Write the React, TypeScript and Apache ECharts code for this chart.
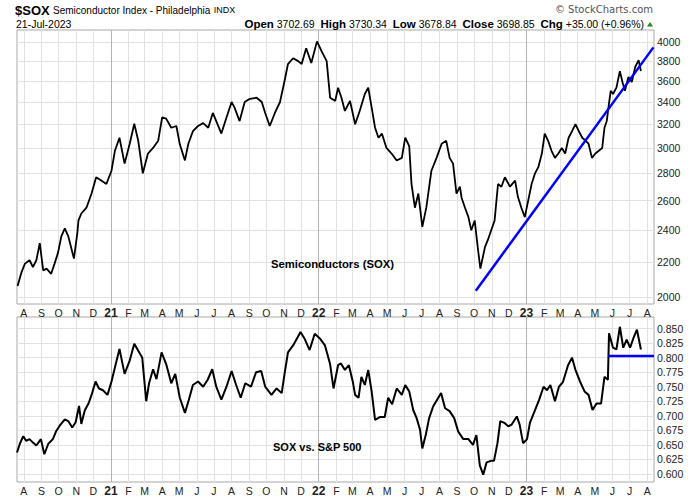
import React, { useEffect, useRef } from 'react';
import * as echarts from 'echarts';

const priceDates = [
  '2020-07-21','2020-07-28','2020-08-03','2020-08-11','2020-08-17','2020-08-23','2020-08-29','2020-09-04','2020-09-10','2020-09-18',
  '2020-09-24','2020-09-30','2020-10-06','2020-10-12','2020-10-18','2020-10-23','2020-10-28','2020-11-03','2020-11-05','2020-11-10',
  '2020-11-19','2020-11-28','2020-12-06','2020-12-15','2020-12-24','2021-01-02','2021-01-08','2021-01-16','2021-01-25','2021-02-03',
  '2021-02-11','2021-02-18','2021-02-26','2021-03-07','2021-03-16','2021-03-25','2021-04-01','2021-04-08','2021-04-17','2021-04-26',
  '2021-05-02','2021-05-11','2021-05-17','2021-05-25','2021-06-03','2021-06-12','2021-06-21','2021-06-29','2021-07-05','2021-07-14',
  '2021-07-23','2021-08-01','2021-08-06','2021-08-15','2021-08-24','2021-09-02','2021-09-14','2021-09-23','2021-09-29','2021-10-07',
  '2021-10-16','2021-10-25','2021-11-02','2021-11-08','2021-11-17','2021-11-26','2021-12-02','2021-12-10','2021-12-19','2021-12-29',
  '2022-01-06','2022-01-15','2022-01-21','2022-01-30','2022-02-04','2022-02-10','2022-02-16','2022-02-25','2022-03-06','2022-03-14',
  '2022-03-23','2022-03-29','2022-04-04','2022-04-10','2022-04-16','2022-04-22','2022-04-30','2022-05-09','2022-05-18','2022-05-27',
  '2022-06-02','2022-06-09','2022-06-13','2022-06-19','2022-06-25','2022-07-02','2022-07-09','2022-07-18','2022-07-27','2022-08-05',
  '2022-08-13','2022-08-19','2022-08-25','2022-08-31','2022-09-06','2022-09-09','2022-09-15','2022-09-21','2022-09-26','2022-10-02',
  '2022-10-08','2022-10-12','2022-10-20','2022-10-25','2022-10-31','2022-11-06','2022-11-12','2022-11-18','2022-11-24','2022-12-03',
  '2022-12-12','2022-12-17','2022-12-23','2022-12-29','2023-01-04','2023-01-10','2023-01-16','2023-01-22','2023-01-28','2023-02-02',
  '2023-02-08','2023-02-14','2023-02-20','2023-02-26','2023-03-04','2023-03-10','2023-03-16','2023-03-22','2023-03-28','2023-04-03',
  '2023-04-09','2023-04-15','2023-04-20','2023-04-26','2023-05-02','2023-05-08','2023-05-14','2023-05-18','2023-05-22','2023-05-25',
  '2023-05-29','2023-06-02','2023-06-08','2023-06-14','2023-06-19','2023-06-23','2023-06-29','2023-07-05','2023-07-11','2023-07-17',
  '2023-07-21'
];
const priceValues = [
  2060,2140,2190,2210,2170,2210,2315,2150,2160,2130,
  2190,2255,2360,2410,2360,2290,2220,2380,2463,2510,
  2550,2650,2770,2745,2720,2820,2977,3085,2875,3035,
  3205,3059,2800,2955,3000,3059,3260,3250,3170,3185,
  3030,2900,3035,3140,3185,3210,3170,3300,3228,3120,
  3260,3400,3350,3228,3400,3430,3440,3400,3300,3185,
  3300,3400,3600,3770,3830,3800,3770,3935,3780,4010,
  3905,3800,3440,3410,3535,3440,3318,3410,3200,3318,
  3475,3535,3350,3170,3085,3120,3000,2955,2900,2920,
  3085,3015,2720,2550,2650,2420,2550,2820,2920,3035,
  3059,2920,2875,2650,2700,2620,2550,2485,2398,2463,
  2271,2160,2290,2334,2398,2463,2720,2700,2770,2700,
  2745,2625,2550,2485,2600,2720,2800,2850,2955,3120,
  3059,2977,2920,2955,3000,2955,3085,3140,3200,3140,
  3085,3059,3035,2920,2955,2977,3000,3170,3228,3350,
  3505,3475,3535,3698,3580,3505,3640,3590,3740,3810,
  3699
];

const ratioDates = [
  '2020-07-20','2020-07-25','2020-07-31','2020-08-05','2020-08-11','2020-08-17','2020-08-23','2020-08-31','2020-09-06','2020-09-13',
  '2020-09-21','2020-09-27','2020-10-03','2020-10-12','2020-10-18','2020-10-25','2020-10-31','2020-11-06','2020-11-10','2020-11-16',
  '2020-11-23','2020-11-29','2020-12-05','2020-12-11','2020-12-18','2020-12-26','2021-01-02','2021-01-08','2021-01-16','2021-01-25',
  '2021-02-03','2021-02-11','2021-02-18','2021-02-25','2021-03-04','2021-03-09','2021-03-16','2021-03-22','2021-03-31','2021-04-08',
  '2021-04-17','2021-04-24','2021-05-02','2021-05-11','2021-05-18','2021-05-25','2021-06-03','2021-06-12','2021-06-20','2021-06-28',
  '2021-07-05','2021-07-14','2021-07-23','2021-08-01','2021-08-09','2021-08-17','2021-08-25','2021-09-04','2021-09-13','2021-09-22',
  '2021-09-29','2021-10-10','2021-10-19','2021-10-28','2021-11-02','2021-11-08','2021-11-17','2021-11-25','2021-11-30','2021-12-07',
  '2021-12-16','2021-12-25','2022-01-03','2022-01-12','2022-01-21','2022-01-27','2022-02-04','2022-02-09','2022-02-16','2022-02-23',
  '2022-03-02','2022-03-06','2022-03-12','2022-03-17','2022-03-23','2022-03-29','2022-04-04','2022-04-10','2022-04-19','2022-04-27',
  '2022-05-03','2022-05-10','2022-05-18','2022-05-27','2022-06-02','2022-06-09','2022-06-16','2022-06-22','2022-06-28','2022-07-02',
  '2022-07-08','2022-07-14','2022-07-21','2022-07-30','2022-08-04','2022-08-11','2022-08-19','2022-08-27','2022-09-03','2022-09-12',
  '2022-09-21','2022-09-29','2022-10-05','2022-10-11','2022-10-17','2022-10-23','2022-11-01','2022-11-05','2022-11-11','2022-11-16',
  '2022-11-23','2022-11-30','2022-12-06','2022-12-15','2022-12-20','2022-12-26','2023-01-02','2023-01-07','2023-01-16','2023-01-23',
  '2023-01-31','2023-02-06','2023-02-12','2023-02-20','2023-02-27','2023-03-06','2023-03-15','2023-03-22','2023-03-28','2023-04-05',
  '2023-04-13','2023-04-20','2023-04-27','2023-05-04','2023-05-12','2023-05-18','2023-05-24','2023-05-26','2023-06-02','2023-06-08',
  '2023-06-14','2023-06-20','2023-06-26','2023-07-02','2023-07-08','2023-07-14','2023-07-21'
];
const ratioValues = [
  0.637,0.652,0.665,0.657,0.660,0.654,0.649,0.660,0.634,0.652,
  0.660,0.674,0.683,0.694,0.691,0.680,0.689,0.717,0.686,0.709,
  0.722,0.739,0.759,0.747,0.744,0.736,0.759,0.783,0.815,0.772,
  0.795,0.824,0.812,0.800,0.725,0.756,0.780,0.763,0.809,0.789,
  0.756,0.772,0.731,0.705,0.728,0.753,0.759,0.750,0.762,0.780,
  0.750,0.728,0.750,0.777,0.753,0.731,0.756,0.750,0.775,0.777,
  0.750,0.736,0.747,0.739,0.772,0.809,0.821,0.835,0.844,0.833,
  0.813,0.841,0.833,0.821,0.789,0.747,0.787,0.790,0.779,0.787,
  0.758,0.736,0.731,0.767,0.753,0.779,0.742,0.693,0.698,0.698,
  0.731,0.720,0.747,0.736,0.753,0.742,0.710,0.696,0.676,0.644,
  0.667,0.696,0.716,0.731,0.739,0.713,0.708,0.696,0.673,0.660,
  0.660,0.650,0.667,0.615,0.599,0.620,0.623,0.623,0.653,0.691,
  0.688,0.682,0.685,0.699,0.685,0.653,0.660,0.688,0.710,0.727,
  0.750,0.744,0.753,0.725,0.750,0.758,0.787,0.800,0.779,0.759,
  0.742,0.736,0.710,0.721,0.721,0.767,0.762,0.842,0.817,0.814,
  0.853,0.817,0.831,0.817,0.834,0.848,0.814
];

const trendDates = ['2022-10-04', '2023-08-12'];
const trendValues = [2034, 3945];
const levelDates = ['2023-05-25', '2023-08-13'];
const levelValues = [0.803, 0.803];

const priceTicks = [2000, 2200, 2400, 2600, 2800, 3000, 3200, 3400, 3600, 3800, 4000];
const ratioTicks = [0.6, 0.625, 0.65, 0.675, 0.7, 0.725, 0.75, 0.775, 0.8, 0.825, 0.85];
const monthTicks = [
  '2020-08-01','2020-09-01','2020-10-01','2020-11-01','2020-12-01',
  '2021-01-01','2021-02-01','2021-03-01','2021-04-01','2021-05-01','2021-06-01','2021-07-01',
  '2021-08-01','2021-09-01','2021-10-01','2021-11-01','2021-12-01',
  '2022-01-01','2022-02-01','2022-03-01','2022-04-01','2022-05-01','2022-06-01','2022-07-01',
  '2022-08-01','2022-09-01','2022-10-01','2022-11-01','2022-12-01',
  '2023-01-01','2023-02-01','2023-03-01','2023-04-01','2023-05-01','2023-06-01','2023-07-01',
  '2023-08-01'
];
const monthLetters = ['J', 'F', 'M', 'A', 'M', 'J', 'J', 'A', 'S', 'O', 'N', 'D'];

const FONT = '"Liberation Sans", Arial, sans-serif';

export default function App() {
  const ref = useRef<HTMLDivElement>(null);
  useEffect(() => {
    document.body.style.margin = '0';
    const chart = echarts.init(ref.current!, null, { renderer: 'svg' });
    const tp = (s: string) => {
      const [y, m, d] = s.split('-').map(Number);
      return Date.UTC(y, m - 1, d);
    };
    const xMin = tp('2020-07-20');
    const xMax = tp('2023-08-13');
    const monthTickVals = monthTicks.map(tp);
    // split line colours cycle over 12 months starting at Aug; index 5 = January
    const vColors = ['#e2e2e2', '#e2e2e2', '#e2e2e2', '#e2e2e2', '#e2e2e2', '#b4b4b4',
      '#e2e2e2', '#e2e2e2', '#e2e2e2', '#e2e2e2', '#e2e2e2', '#e2e2e2'];
    const xFormatter = (v: number) => {
      const d = new Date(Math.round(v));
      const m = d.getUTCMonth();
      if (m === 0) return '{y|' + String(d.getUTCFullYear()).slice(2) + '}';
      return monthLetters[m];
    };
    const makeX = (gi: number) => ({
      type: 'value',
      gridIndex: gi,
      min: xMin,
      max: xMax,
      axisLine: { show: false },
      axisTick: { show: false, customValues: monthTickVals },
      axisLabel: {
        customValues: monthTickVals,
        formatter: xFormatter,
        margin: 3,
        fontSize: 10.5,
        color: '#222',
        fontFamily: FONT,
        hideOverlap: false,
        showMinLabel: true,
        showMaxLabel: true,
        rich: { y: { fontWeight: 'bold', fontSize: 12, color: '#222', fontFamily: FONT } },
      },
      splitLine: { show: true, lineStyle: { color: vColors, width: 1 } },
    });
    const logTicks = priceTicks.map((v) => Math.log(v));
    const option: any = {
      animation: false,
      backgroundColor: '#fff',
      grid: [
        { left: 17, top: 30, width: 637, height: 274, show: true, borderColor: '#a8a8a8', borderWidth: 1 },
        { left: 17, top: 317, width: 637, height: 165, show: true, borderColor: '#a8a8a8', borderWidth: 1 },
      ],
      xAxis: [makeX(0), makeX(1)],
      yAxis: [
        {
          type: 'value',
          gridIndex: 0,
          position: 'right',
          min: Math.log(1962),
          max: Math.log(4136),
          axisLine: { show: false },
          axisTick: { show: false, customValues: logTicks },
          axisLabel: {
            customValues: logTicks,
            formatter: (v: number) => String(Math.round(Math.exp(v))),
            margin: 3,
            fontSize: 10.5,
            color: '#222',
            fontFamily: FONT,
          },
          splitLine: { show: true, lineStyle: { color: '#e2e2e2', width: 1 } },
        },
        {
          type: 'value',
          gridIndex: 1,
          position: 'right',
          min: 0.5863,
          max: 0.8698,
          axisLine: { show: false },
          axisTick: { show: false, customValues: ratioTicks },
          axisLabel: {
            customValues: ratioTicks,
            formatter: (v: number) => v.toFixed(3),
            margin: 3,
            fontSize: 10.5,
            color: '#222',
            fontFamily: FONT,
          },
          splitLine: { show: true, lineStyle: { color: '#e2e2e2', width: 1 } },
        },
      ],
      series: [
        {
          type: 'line',
          xAxisIndex: 0,
          yAxisIndex: 0,
          data: priceDates.map((d, i) => [tp(d), Math.log(priceValues[i])]),
          showSymbol: false,
          lineStyle: { color: '#000', width: 1.8 },
          silent: true,
          z: 3,
        },
        {
          type: 'line',
          xAxisIndex: 0,
          yAxisIndex: 0,
          data: trendDates.map((d, i) => [tp(d), Math.log(trendValues[i])]),
          showSymbol: false,
          lineStyle: { color: '#0000ff', width: 2.5 },
          silent: true,
          z: 4,
        },
        {
          type: 'line',
          xAxisIndex: 1,
          yAxisIndex: 1,
          data: ratioDates.map((d, i) => [tp(d), ratioValues[i]]),
          showSymbol: false,
          lineStyle: { color: '#000', width: 2 },
          silent: true,
          z: 3,
        },
        {
          type: 'line',
          xAxisIndex: 1,
          yAxisIndex: 1,
          data: levelDates.map((d, i) => [tp(d), levelValues[i]]),
          showSymbol: false,
          lineStyle: { color: '#0000ff', width: 2.5 },
          silent: true,
          z: 4,
        },
      ],
      graphic: [
        {
          type: 'text',
          x: 15,
          y: 10,
          z: 100,
          style: {
            text: '{a|$SOX} {b|Semiconductor Index - Philadelphia} {c|INDX}',
            verticalAlign: 'middle',
            rich: {
              a: { fontSize: 13, fontWeight: 'bold', fontFamily: FONT, fill: '#000' },
              b: { fontSize: 10, fontFamily: FONT, fill: '#000' },
              c: { fontSize: 9, fontFamily: FONT, fill: '#000' },
            },
          },
        },
        {
          type: 'text',
          x: 16,
          y: 24,
          z: 100,
          style: { text: '21-Jul-2023', fontSize: 10.5, fontFamily: FONT, fill: '#000', verticalAlign: 'middle' },
        },
        {
          type: 'text',
          x: 644,
          y: 24,
          z: 100,
          style: {
            text: '{b|Open} 3702.69  {b|High} 3730.34  {b|Low} 3678.84  {b|Close} 3698.85  {b|Chg} +35.00 (+0.96%)',
            align: 'right',
            verticalAlign: 'middle',
            fontSize: 10.5,
            fontFamily: FONT,
            fill: '#000',
            rich: {
              b: { fontSize: 11.5, fontWeight: 'bold', fontFamily: FONT, fill: '#000' },
            },
          },
        },
        {
          type: 'polygon',
          z: 100,
          shape: { points: [[647, 26.5], [653, 26.5], [650, 22]] },
          style: { fill: '#1e8c1e' },
        },
        {
          type: 'text',
          x: 653,
          y: 9,
          z: 100,
          style: { text: '\u00A9 StockCharts.com', align: 'right', verticalAlign: 'middle', fontSize: 10, fontFamily: '"DejaVu Sans", Verdana, sans-serif', fill: '#555' },
        },
        {
          type: 'text',
          x: 271,
          y: 264,
          z: 100,
          style: { text: 'Semiconductors (SOX)', verticalAlign: 'middle', fontSize: 11.3, fontWeight: 'bold', fontFamily: FONT, fill: '#000' },
        },
        {
          type: 'text',
          x: 273,
          y: 447,
          z: 100,
          style: { text: 'SOX vs. S&P 500', verticalAlign: 'middle', fontSize: 11, fontWeight: 'bold', fontFamily: FONT, fill: '#000' },
        },
      ],
    };
    chart.setOption(option);
    return () => chart.dispose();
  }, []);
  return <div ref={ref} style={{ width: 700, height: 499 }} />;
}
